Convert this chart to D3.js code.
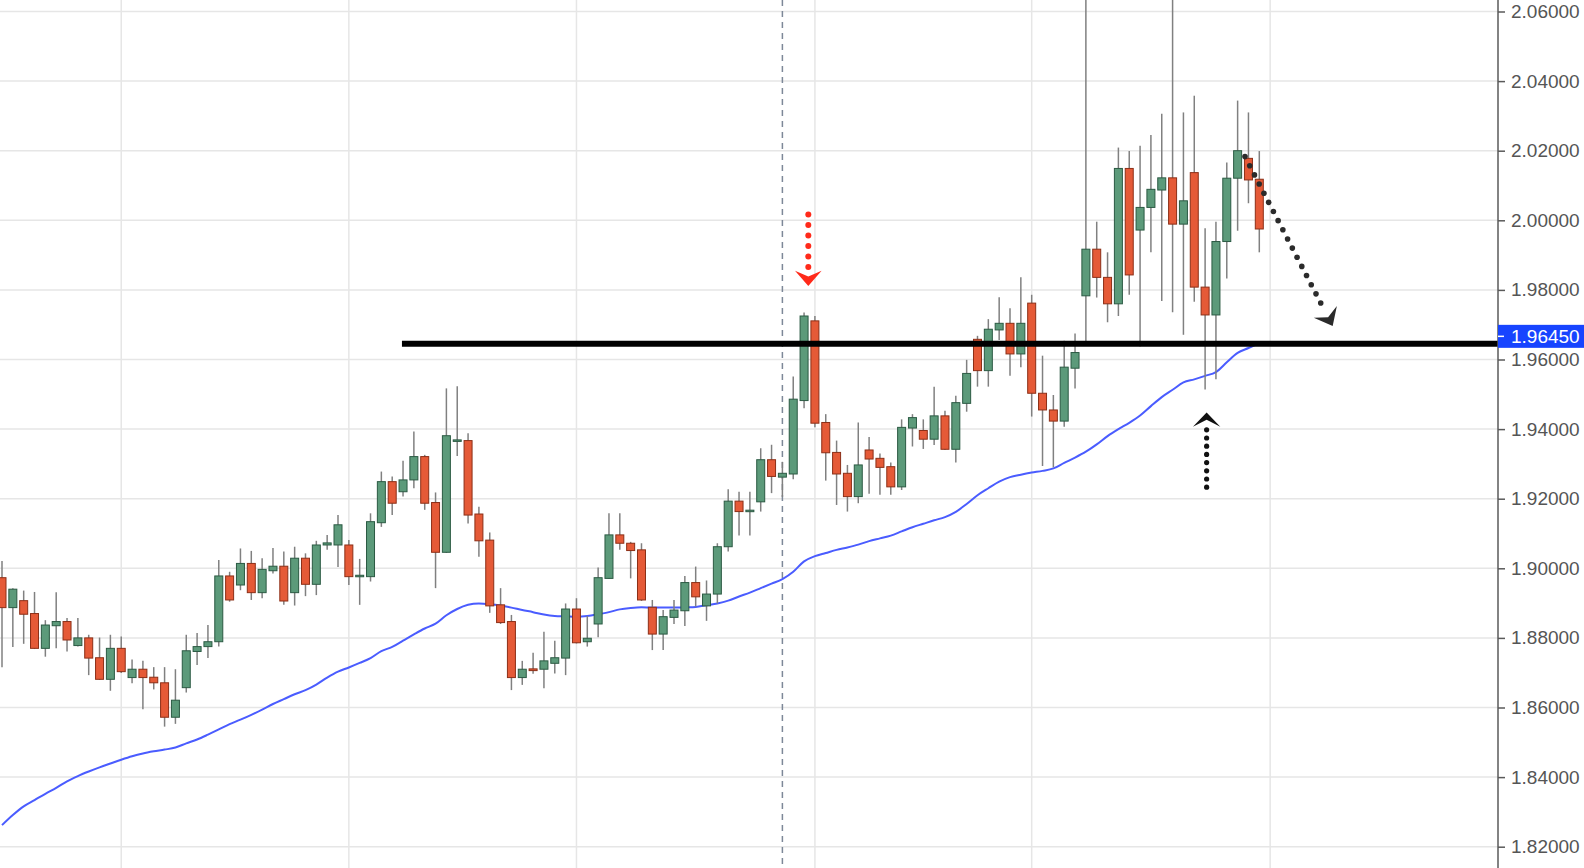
<!DOCTYPE html>
<html>
<head>
<meta charset="utf-8">
<script src="https://cdn.jsdelivr.net/npm/d3@7"></script>
<style>
  html, body { margin: 0; padding: 0; background: #ffffff; overflow: hidden; }
  svg { display: block; }
</style>
</head>
<body>
<svg id="chart" width="1584" height="868"></svg>
<script>
// Daily OHLC bars, oldest first
const opens = [
  1.8973, 1.8887, 1.8907, 1.8870, 1.8770, 1.8835, 1.8847, 1.8778, 1.8800, 1.8743,
  1.8681, 1.8770, 1.8686, 1.8710, 1.8687, 1.8671, 1.8572, 1.8657, 1.8761, 1.8775,
  1.8789, 1.8978, 1.8952, 1.9014, 1.8930, 1.8993, 1.9006, 1.8930, 1.9029, 1.8954,
  1.9067, 1.9067, 1.9067, 1.8977, 1.8976, 1.9131, 1.9249, 1.9220, 1.9254, 1.9321,
  1.9189, 1.9046, 1.9365, 1.9367, 1.9156, 1.9081, 1.8895, 1.8847, 1.8686, 1.8711,
  1.8710, 1.8727, 1.8742, 1.8883, 1.8789, 1.8840, 1.8971, 1.9096, 1.9072, 1.9053,
  1.8888, 1.8811, 1.8859, 1.8878, 1.8959, 1.8892, 1.8926, 1.9062, 1.9193, 1.9163,
  1.9191, 1.9312, 1.9262, 1.9271, 1.9482, 1.9711, 1.9419, 1.9333, 1.9273, 1.9206,
  1.9340, 1.9316, 1.9292, 1.9234, 1.9403, 1.9396, 1.9371, 1.9438, 1.9342, 1.9474,
  1.9658, 1.9568, 1.9685, 1.9704, 1.9616, 1.9762, 1.9503, 1.9455, 1.9423, 1.9575,
  1.9783, 1.9917, 1.9836, 1.9760, 2.0149, 1.9972, 2.0037, 2.0087, 2.0122, 1.9989,
  2.0137, 1.9808, 1.9728, 1.9939, 2.0121, 2.0178, 2.0118
];
const highs = [
  1.9021, 1.8943, 1.8936, 1.8932, 1.8851, 1.8931, 1.8857, 1.8857, 1.8809, 1.8801,
  1.8809, 1.8804, 1.8738, 1.8734, 1.8716, 1.8716, 1.8710, 1.8809, 1.8814, 1.8837,
  1.9024, 1.8990, 1.9057, 1.9050, 1.9029, 1.9058, 1.9048, 1.9062, 1.9043, 1.9079,
  1.9096, 1.9153, 1.9081, 1.9027, 1.9158, 1.9278, 1.9264, 1.9309, 1.9393, 1.9326,
  1.9218, 1.9517, 1.9523, 1.9388, 1.9177, 1.9103, 1.8943, 1.8866, 1.8734, 1.8757,
  1.8818, 1.8792, 1.8899, 1.8914, 1.8863, 1.9002, 1.9158, 1.9158, 1.9076, 1.9072,
  1.8909, 1.8880, 1.8909, 1.8978, 1.9005, 1.8965, 1.9072, 1.9227, 1.9220, 1.9220,
  1.9345, 1.9355, 1.9306, 1.9551, 1.9735, 1.9725, 1.9443, 1.9367, 1.9297, 1.9419,
  1.9377, 1.9330, 1.9304, 1.9428, 1.9443, 1.9428, 1.9522, 1.9453, 1.9496, 1.9599,
  1.9668, 1.9716, 1.9779, 1.9747, 1.9836, 1.9786, 1.9611, 1.9498, 1.9654, 1.9675,
  2.0750, 1.9996, 1.9908, 2.0209, 2.0199, 2.0214, 2.0245, 2.0306, 2.0750, 2.0310,
  2.0358, 1.9977, 1.9996, 2.0166, 2.0344, 2.0310, 2.0199
];
const lows = [
  1.8716, 1.8774, 1.8783, 1.8768, 1.8746, 1.8770, 1.8761, 1.8775, 1.8693, 1.8679,
  1.8648, 1.8699, 1.8670, 1.8595, 1.8652, 1.8545, 1.8553, 1.8643, 1.8722, 1.8742,
  1.8775, 1.8904, 1.8937, 1.8909, 1.8914, 1.8985, 1.8895, 1.8893, 1.8920, 1.8923,
  1.9053, 1.9004, 1.8952, 1.8895, 1.8962, 1.9119, 1.9153, 1.9206, 1.9230, 1.9168,
  1.8943, 1.9044, 1.9323, 1.9129, 1.9033, 1.8872, 1.8840, 1.8650, 1.8665, 1.8697,
  1.8655, 1.8698, 1.8693, 1.8784, 1.8775, 1.8802, 1.8969, 1.9053, 1.8971, 1.8906,
  1.8765, 1.8765, 1.8840, 1.8834, 1.8890, 1.8849, 1.8899, 1.9048, 1.9094, 1.9094,
  1.9163, 1.9216, 1.9205, 1.9256, 1.9460, 1.9405, 1.9252, 1.9182, 1.9163, 1.9187,
  1.9214, 1.9211, 1.9211, 1.9225, 1.9350, 1.9343, 1.9354, 1.9340, 1.9304, 1.9450,
  1.9522, 1.9522, 1.9656, 1.9553, 1.9578, 1.9436, 1.9294, 1.9290, 1.9407, 1.9517,
  1.9639, 1.9778, 1.9707, 1.9725, 1.9786, 1.9637, 1.9908, 1.9768, 1.9736, 1.9671,
  1.9766, 1.9514, 1.9543, 1.9833, 1.9970, 2.0049, 1.9908
];
const closes = [
  1.8887, 1.8940, 1.8868, 1.8770, 1.8837, 1.8847, 1.8794, 1.8800, 1.8742, 1.8681,
  1.8770, 1.8703, 1.8710, 1.8686, 1.8671, 1.8572, 1.8621, 1.8763, 1.8775, 1.8789,
  1.8978, 1.8909, 1.9014, 1.8930, 1.8997, 1.9006, 1.8906, 1.9029, 1.8954, 1.9067,
  1.9073, 1.9125, 1.8976, 1.8980, 1.9134, 1.9249, 1.9187, 1.9254, 1.9321, 1.9187,
  1.9046, 1.9381, 1.9369, 1.9153, 1.9079, 1.8892, 1.8844, 1.8686, 1.8710, 1.8706,
  1.8734, 1.8743, 1.8883, 1.8786, 1.8799, 1.8973, 1.9096, 1.9072, 1.9051, 1.8909,
  1.8811, 1.8861, 1.8880, 1.8959, 1.8918, 1.8926, 1.9062, 1.9193, 1.9163, 1.9167,
  1.9312, 1.9264, 1.9273, 1.9486, 1.9725, 1.9417, 1.9332, 1.9271, 1.9206, 1.9297,
  1.9314, 1.9290, 1.9234, 1.9405, 1.9433, 1.9371, 1.9438, 1.9342, 1.9476, 1.9560,
  1.9568, 1.9687, 1.9704, 1.9616, 1.9704, 1.9503, 1.9455, 1.9423, 1.9578, 1.9620,
  1.9917, 1.9836, 1.9760, 2.0149, 1.9843, 2.0037, 2.0089, 2.0122, 1.9989, 2.0056,
  1.9808, 1.9728, 1.9939, 2.0121, 2.0200, 2.0116, 1.9975
];
// Moving average, one value per bar
const maValues = [
  1.8262, 1.8291, 1.8316, 1.8334, 1.8352, 1.8369, 1.8388, 1.8403, 1.8416, 1.8428,
  1.8439, 1.8450, 1.8460, 1.8468, 1.8474, 1.8479, 1.8485, 1.8497, 1.8508, 1.8522,
  1.8537, 1.8552, 1.8565, 1.8579, 1.8594, 1.8610, 1.8624, 1.8638, 1.8650, 1.8666,
  1.8686, 1.8703, 1.8715, 1.8728, 1.8742, 1.8762, 1.8774, 1.8792, 1.8810, 1.8827,
  1.8841, 1.8865, 1.8883, 1.8895, 1.8899, 1.8897, 1.8893, 1.8887, 1.8880, 1.8874,
  1.8867, 1.8863, 1.8862, 1.8861, 1.8863, 1.8868, 1.8874, 1.8882, 1.8886, 1.8888,
  1.8887, 1.8887, 1.8887, 1.8888, 1.8889, 1.8894, 1.8899, 1.8907, 1.8919, 1.8930,
  1.8943, 1.8956, 1.8969, 1.8990, 1.9020, 1.9035, 1.9044, 1.9053, 1.9060, 1.9068,
  1.9078, 1.9086, 1.9094, 1.9106, 1.9118, 1.9128, 1.9138, 1.9147, 1.9162, 1.9185,
  1.9210, 1.9230, 1.9249, 1.9262, 1.9269, 1.9275, 1.9280, 1.9287, 1.9303, 1.9318,
  1.9335, 1.9356, 1.9380, 1.9400, 1.9418, 1.9439, 1.9466, 1.9492, 1.9513, 1.9534,
  1.9543, 1.9553, 1.9564, 1.9592, 1.9619, 1.9633, 1.9647
];
// Price axis ticks
const priceTicks = [1.82, 1.84, 1.86, 1.88, 1.90, 1.92, 1.94, 1.96, 1.98, 2.00, 2.02, 2.04, 2.06];
// Bar indices where a new month begins (vertical grid)
const monthStarts = [11, 32, 53, 75, 95, 117];
// Bar index of the dashed session marker
const markerIndex = 72;
// Horizontal level and the bar it starts from
const levelPrice = 1.9645;
const levelStartIndex = 36.9;
// Annotation arrows: [bar index, price] of the tail and of the tip
const arrowTails = [[74.39, 2.0017], [111.14, 1.9233], [114.68, 2.0183]];
const arrowTips  = [[74.39, 1.9811], [111.14, 1.9448], [122.77, 1.9696]];

const W = 1584, H = 868, axisX = 1498;
const bars = opens.map((o, i) => ({ i, o, h: highs[i], l: lows[i], c: closes[i] }));

const x = d3.scaleLinear().domain([0, 116]).range([2, 1259.3]);
const y = d3.scaleLinear().domain([1.82, 2.06]).range([846.7, 11.5]);

const svg = d3.select("#chart");
svg.append("rect").attr("width", W).attr("height", H).attr("fill", "#ffffff");
svg.append("defs").append("clipPath").attr("id", "plot")
  .append("rect").attr("x", 0).attr("y", 0).attr("width", axisX).attr("height", H);

const plot = svg.append("g").attr("clip-path", "url(#plot)");

// grid
plot.append("g").selectAll("line").data(priceTicks).join("line")
  .attr("x1", 0).attr("x2", axisX)
  .attr("y1", d => y(d)).attr("y2", d => y(d))
  .attr("stroke", "#e6e6e6").attr("stroke-width", 1.5);
plot.append("g").selectAll("line").data(monthStarts).join("line")
  .attr("x1", d => x(d)).attr("x2", d => x(d))
  .attr("y1", 0).attr("y2", H)
  .attr("stroke", "#e6e6e6").attr("stroke-width", 1.5);

// dashed session marker
plot.append("line")
  .attr("x1", x(markerIndex)).attr("x2", x(markerIndex))
  .attr("y1", 0).attr("y2", H)
  .attr("stroke", "#7d8898").attr("stroke-width", 1.5)
  .attr("stroke-dasharray", "6,5");

// moving average
plot.append("path")
  .datum(maValues)
  .attr("fill", "none")
  .attr("stroke", "#4a5cff")
  .attr("stroke-width", 2)
  .attr("d", d3.line().x((d, i) => x(i)).y(d => y(d)).curve(d3.curveMonotoneX));

// candles
const candle = plot.append("g").selectAll("g").data(bars).join("g");
candle.append("line")
  .attr("x1", d => x(d.i)).attr("x2", d => x(d.i))
  .attr("y1", d => y(d.h)).attr("y2", d => y(d.l))
  .attr("stroke", "#808080").attr("stroke-width", 1.5);
const bodyW = 8;
candle.append("rect")
  .attr("x", d => x(d.i) - bodyW / 2)
  .attr("width", bodyW)
  .attr("y", d => y(Math.max(d.o, d.c)))
  .attr("height", d => Math.max(1.5, Math.abs(y(d.o) - y(d.c))))
  .attr("fill", d => d.c >= d.o ? "#5c9a7a" : "#e55a37")
  .attr("stroke", d => d.c >= d.o ? "#2b5a43" : "#8c2f17")
  .attr("stroke-width", 1);

// horizontal level
plot.append("line")
  .attr("x1", x(levelStartIndex)).attr("x2", axisX)
  .attr("y1", y(levelPrice)).attr("y2", y(levelPrice))
  .attr("stroke", "#000000").attr("stroke-width", 6);

// dotted arrows
const arrowStyles = [
  { color: "#ff2a1a", r: 3, gap: 10.5, len: 15.3, half: 13.3, notch: 5.8 },
  { color: "#111111", r: 2.6, gap: 8.2, len: 14.4, half: 13.7, notch: 7 },
  { color: "#2b2b2b", r: 2.8, gap: 10.3, len: 16, half: 13, notch: 6 }
];
const arrows = plot.append("g");
arrowTails.forEach((tail, k) => {
  const s = arrowStyles[k];
  const x0 = x(tail[0]), y0 = y(tail[1]);
  const x1 = x(arrowTips[k][0]), y1 = y(arrowTips[k][1]);
  const dx = x1 - x0, dy = y1 - y0, dist = Math.hypot(dx, dy);
  const ux = dx / dist, uy = dy / dist, px = -uy, py = ux;
  const stop = dist - s.len - 3;
  const dots = d3.range(0, stop + 0.01, s.gap);
  arrows.append("g").selectAll("circle").data(dots).join("circle")
    .attr("cx", t => x0 + ux * t).attr("cy", t => y0 + uy * t)
    .attr("r", s.r).attr("fill", s.color);
  const bx = x1 - ux * s.len, by = y1 - uy * s.len;
  const head = d3.path();
  head.moveTo(bx + px * s.half, by + py * s.half);
  head.lineTo(x1, y1);
  head.lineTo(bx - px * s.half, by - py * s.half);
  head.lineTo(bx + ux * s.notch, by + uy * s.notch);
  head.closePath();
  arrows.append("path").attr("d", head.toString()).attr("fill", s.color);
});

// price axis
svg.append("line")
  .attr("x1", axisX).attr("x2", axisX).attr("y1", 0).attr("y2", H)
  .attr("stroke", "#5a5a5a").attr("stroke-width", 1.5);
const axis = svg.append("g")
  .attr("transform", `translate(${axisX},0)`)
  .call(d3.axisRight(y).tickValues(priceTicks).tickFormat(d3.format(".5f"))
    .tickSize(7).tickSizeOuter(0).tickPadding(6));
axis.select(".domain").remove();
axis.selectAll(".tick line").attr("stroke", "#5a5a5a").attr("stroke-width", 1.5);
axis.selectAll(".tick text")
  .attr("fill", "#555555")
  .attr("font-family", "'Liberation Sans', Arial, sans-serif")
  .attr("font-size", 19);

// level price tag
const tagY = y(levelPrice);
svg.append("rect")
  .attr("x", axisX).attr("y", tagY - 19).attr("width", W - axisX).attr("height", 23)
  .attr("fill", "#1744ff");
svg.append("line")
  .attr("x1", axisX).attr("x2", axisX + 6).attr("y1", tagY - 7.5).attr("y2", tagY - 7.5)
  .attr("stroke", "#ffffff").attr("stroke-width", 1.5);
svg.append("text")
  .attr("x", axisX + 13).attr("y", tagY - 7.5)
  .attr("dominant-baseline", "central")
  .attr("fill", "#ffffff")
  .attr("font-family", "'Liberation Sans', Arial, sans-serif")
  .attr("font-size", 19)
  .text(d3.format(".5f")(levelPrice));
</script>
</body>
</html>
